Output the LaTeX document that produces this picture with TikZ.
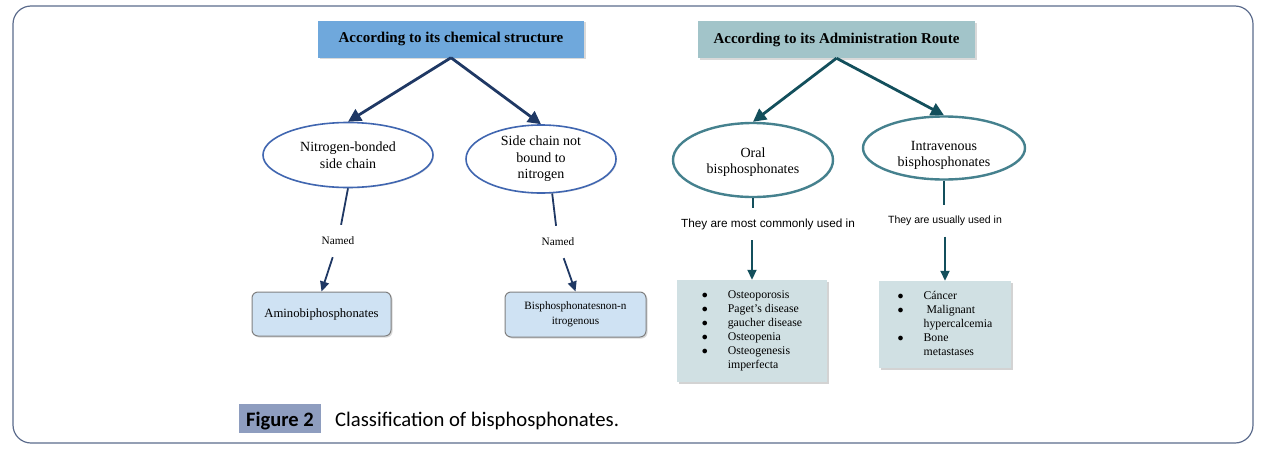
\documentclass[tikz,border=0pt]{standalone}
\usepackage{fontspec}
\setmainfont{Liberation Serif}
\setsansfont{Liberation Sans}
\newfontfamily\capfont{Carlito}
\usetikzlibrary{arrows.meta, shapes.geometric, shadows}

\definecolor{headblue}{HTML}{6FA8DC}
\definecolor{headteal}{HTML}{A2C4C9}
\definecolor{navy}{HTML}{1F3864}
\definecolor{ringblue}{HTML}{4066B0}
\definecolor{darkteal}{HTML}{134F5C}
\definecolor{ringteal}{HTML}{45818E}
\definecolor{boxblue}{HTML}{CFE2F3}
\definecolor{boxteal}{HTML}{D0E0E3}
\definecolor{framegray}{HTML}{5B6B8C}
\definecolor{figblue}{HTML}{8E9DBF}

\newcommand{\lowtext}[2]{\raisebox{#1}[\height][\depth]{\begin{tabular}{@{}c@{}}#2\end{tabular}}}

\begin{document}
\begin{tikzpicture}[x=1pt,y=-1pt]
\tikzset{
  headbox/.style={minimum height=37pt, inner sep=0pt, font=\fontsize{15}{17}\selectfont\bfseries,
    drop shadow={shadow xshift=1.5pt, shadow yshift=-1.5pt, opacity=0.3}},
  ring/.style={ellipse, draw, fill=white, inner sep=0pt, align=center, font=\fontsize{14}{16.5}\selectfont,
    drop shadow={shadow xshift=1pt, shadow yshift=-1pt, opacity=0.2}},
  namebox/.style={draw=gray, rounded corners=6pt, fill=boxblue, line width=1pt, inner sep=0pt, align=center,
    font=\fontsize{12.7}{15}\selectfont, drop shadow={shadow xshift=1.5pt, shadow yshift=-1.5pt, opacity=0.3}},
  listbox/.style={fill=boxteal, inner sep=0pt, font=\fontsize{11.8}{14}\selectfont,
    drop shadow={shadow xshift=1.5pt, shadow yshift=-1.5pt, opacity=0.35}},
  namedlbl/.style={inner xsep=2pt, inner ysep=12pt, font=\fontsize{11.3}{13}\selectfont},
  uselbl/.style={inner xsep=2pt, inner ysep=10.5pt, font=\sffamily\fontsize{11.8}{13}\selectfont},
  bigarrow/.style={line width=2.8pt, -{Triangle[length=13pt,width=13pt]}},
  smallline/.style={line width=1.8pt},
  smallarrow/.style={line width=1.8pt, -{Triangle[length=10pt,width=9pt]}},
  figtag/.style={fill=figblue, minimum width=82pt, minimum height=29pt, inner sep=0pt,
    text height=16.4pt, text depth=0pt, font=\capfont\bfseries\fontsize{20.5}{24}\selectfont}
}

\useasboundingbox (0,0) rectangle (1264,453);
\draw[framegray, line width=1.2pt, rounded corners=18pt] (13,6) rectangle (1253,443);

% headings
\node[headbox, fill=headblue, minimum width=266pt] (chem) at (451,39) {According to its chemical structure};
\node[headbox, fill=headteal, minimum width=277pt] (route) at (836.5,39.5) {According to its Administration Route};

% second level
\node[ring, draw=ringblue, line width=1.6pt, minimum width=170pt, minimum height=65pt] (nbond) at (348,155) {Nitrogen-bonded\\side chain};
\node[ring, draw=ringblue, line width=1.6pt, minimum width=150pt, minimum height=68pt] (nfree) at (541,159) {Side chain not\\bound to\\nitrogen};
\node[ring, draw=ringteal, line width=2.4pt, minimum width=160pt, minimum height=74pt] (oral) at (753,160) {\lowtext{-2pt}{Oral\\bisphosphonates}};
\node[ring, draw=ringteal, line width=2.4pt, minimum width=162pt, minimum height=63pt] (iv) at (944,148) {\lowtext{-7pt}{Intravenous\\bisphosphonates}};

\draw[bigarrow, navy] (chem.south) -- (nbond.north);
\draw[bigarrow, navy] (chem.south) -- (nfree.north);
\draw[bigarrow, darkteal] (route.south) -- (oral.north);
\draw[bigarrow, darkteal] (route.south) -- (iv.north);

% chemical structure branch
\node[namedlbl] (namedA) at (338,241) {Named};
\node[namedlbl] (namedB) at (558,242) {Named};
\node[namebox, minimum width=139pt, minimum height=44pt] (amino) at (321.5,314) {Aminobiphosphonates};
\node[namebox, font=\fontsize{11.2}{15}\selectfont, minimum width=141pt, minimum height=45pt] (nonn) at (575.5,314.5) {Bisphosphonatesnon-n\\itrogenous};

\draw[smallline, navy] (nbond.south) -- (namedA);
\draw[smallarrow, navy] (namedA) -- (amino.north);
\draw[smallline, navy] (nfree.-72) -- (namedB);
\draw[smallarrow, navy] (namedB) -- (nonn.north);

% administration route branch
\node[uselbl] (useoral) at (768,224) {They are most commonly used in};
\node[uselbl, font=\sffamily\fontsize{10.5}{12}\selectfont] (useiv) at (945,221) {They are usually used in};

\node[listbox, minimum width=150pt, minimum height=102pt] (listoral) at (752,331) {%
  \begin{tabular}{@{}l@{\hspace{20pt}}l@{}}
  $\bullet$ & Osteoporosis\\
  $\bullet$ & Paget's disease\\
  $\bullet$ & gaucher disease\\
  $\bullet$ & Osteopenia\\
  $\bullet$ & Osteogenesis\\
            & imperfecta
  \end{tabular}};
\node[listbox, minimum width=132pt, minimum height=87pt] (listiv) at (945,324.5) {%
  \begin{tabular}{@{}l@{\hspace{20pt}}l@{}}
  $\bullet$ & Cáncer\\
  $\bullet$ & \hspace{3pt}Malignant\\
            & hypercalcemia\\
  $\bullet$ & Bone\\
            & metastases
  \end{tabular}};

\draw[smallline, darkteal] (oral.south) -- (oral.south |- useoral.north);
\draw[smallarrow, darkteal] (useoral.south -| listoral.north) -- (listoral.north);
\draw[smallline, darkteal] (iv.south) -- (iv.south |- useiv.north);
\draw[smallarrow, darkteal] (useiv.south -| listiv.north) -- (listiv.north);

% caption
\node[figtag] (fig) at (280,418.5) {Figure 2};
\node[anchor=base west, inner sep=0pt, font=\capfont\fontsize{20.7}{24}\selectfont] (figtext) at (335,426.7) {Classification of bisphosphonates.};
\end{tikzpicture}
\end{document}
